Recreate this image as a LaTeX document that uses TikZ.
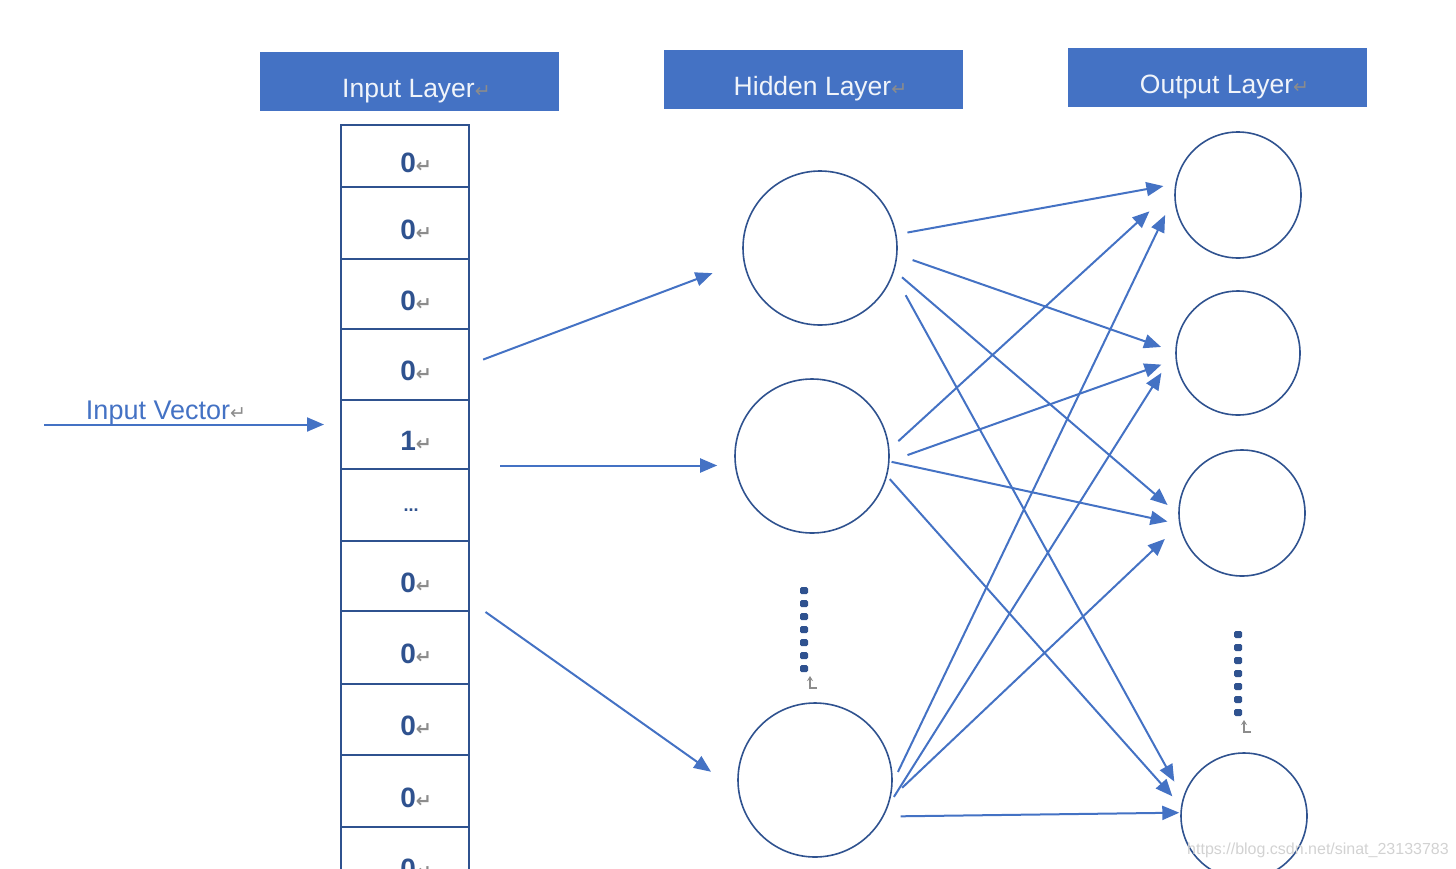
\documentclass[tikz,border=0pt]{standalone}
\usepackage{fontspec}
\setmainfont{Liberation Sans}
\newfontfamily\symfont{DejaVu Sans}
\usetikzlibrary{arrows.meta, positioning, shapes.geometric}
\definecolor{boxblue}{HTML}{4472C4}
\definecolor{lineblue}{HTML}{4472C4}
\definecolor{rimblue}{HTML}{2F528F}
\definecolor{markgray}{HTML}{8C8C8C}
\newcommand{\retmark}{{\symfont\fontsize{19}{19}\selectfont\color{markgray}↵}}
\newcommand{\bit}[1]{\hspace*{22pt}#1\retmark}
\newcommand{\celldots}{\hspace*{12pt}\raisebox{10pt}{\fontsize{18}{18}\selectfont...}}
\tikzstyle{layer} = [rectangle, minimum width=299pt, minimum height=59pt, inner sep=0pt, text height=37pt, text depth=6pt, fill=boxblue, text=white!92!boxblue, font=\fontsize{26.5}{26.5}\selectfont, execute at begin node={\hspace*{14pt}}]
\tikzstyle{cell} = [rectangle, minimum width=128pt, inner sep=0pt, text height=32pt, text depth=0pt, draw=rimblue, line width=2pt, text=rimblue, font=\bfseries\fontsize{28}{28}\selectfont]
\tikzstyle{neuron} = [circle, draw=rimblue, line width=1.6pt, inner sep=0pt]
\tikzstyle{arrow} = [draw=lineblue, line width=2pt, -{Triangle[length=17pt,width=14pt]}]

\begin{document}
\begin{tikzpicture}[x=1pt, y=-1pt]

\useasboundingbox (0,0) rectangle (1456,868);
\clip (0,0) rectangle (1456,868);

\node at (409.5, 81.5) (inlayer) [layer] {Input Layer\retmark};
\node at (813.5, 79.5) (hidlayer) [layer] {Hidden Layer\retmark};
\node at (1217.5, 77.5) (outlayer) [layer] {Output Layer\retmark};

% input vector column
\foreach \i/\top/\bot/\val in {1/125/187/\bit{0}, 2/187/259/\bit{0}, 3/259/329/\bit{0}, 4/329/400/\bit{0}, 5/400/469/\bit{1}, 6/469/541/\celldots, 7/541/611/\bit{0}, 8/611/684/\bit{0}, 9/684/755/\bit{0}, 10/755/827/\bit{0}, 11/827/898/\bit{0}}
  \node[cell, minimum height={\bot-\top}] (cell\i) at (405, {(\top+\bot)/2}) {\val};

\coordinate (vecstart) at (44, 424.5);
\draw [arrow, shorten >=16pt] (vecstart) -- (vecstart -| cell5.west);
\node at (166, 413) (veclabel) [text=lineblue, font=\fontsize{27}{27}\selectfont] {Input Vector\retmark};

% hidden layer
\node at (820, 248) (h1) [neuron, minimum size=154pt] {};
\node at (812, 456) (h2) [neuron, minimum size=154pt] {};
\node at (815, 780) (h3) [neuron, minimum size=154pt] {};

% output layer
\node at (1238, 195) (o1) [neuron, minimum size=126pt] {};
\node at (1238, 353) (o2) [neuron, minimum size=124pt] {};
\node at (1242, 513) (o3) [neuron, minimum size=126pt] {};
\node at (1244, 816) (o4) [neuron, minimum size=126pt] {};

% vertical dots
\foreach \k in {0,...,6} {
  \fill [rimblue, rounded corners=1.5pt] (800, {587+13*\k}) rectangle ++(8, 7);
  \fill [rimblue, rounded corners=1.5pt] (1234, {631+13*\k}) rectangle ++(8, 7);
}
\draw [markgray, line width=1.3pt, -{Stealth[length=5pt,width=6pt]}] (817, 688) -- (810, 688) -- (810, 676);
\draw [markgray, line width=1.3pt, -{Stealth[length=5pt,width=6pt]}] (1251, 732) -- (1244, 732) -- (1244, 720);

% input to hidden
\draw [arrow, shorten <=14pt, shorten >=33pt] (cell4.east) -- (h1.190.4);
\draw [arrow, shorten <=30pt, shorten >=17pt] ([yshift=2.5pt]cell6.north east) -- ([yshift=2.5pt]cell6.north east -| h2.west);
\draw [arrow, shorten <=19pt, shorten >=33pt] ([yshift=9pt]cell8.north east) -- (h3.188.8);

% hidden to output
\draw [arrow, shorten <=11pt, shorten >=12pt] (h1.10.5) -- (o1.170.8);
\draw [arrow, shorten <=16pt, shorten >=15pt] (h1.-5) -- (o2.179);
\draw [arrow, shorten <=10pt, shorten >=14pt] (h1.-17.1) -- (o3.181.3);
\draw [arrow, shorten <=25pt, shorten >=18pt] (h1.-19) -- (o4.163.1);

\draw [arrow, shorten <=12pt, shorten >=34pt] (h2.5.6) -- (o1.174.6);
\draw [arrow, shorten <=19pt, shorten >=15pt] (h2.-4) -- (o2.186.4);
\draw [arrow, shorten <=2pt, shorten >=12pt] (h2.-4.8) -- (o3.190.6);
\draw [arrow, shorten <=4pt, shorten >=13pt] (h2.-15.7) -- (o4.171.5);

\draw [arrow, shorten <=12pt, shorten >=21pt] (h3.-2.6) -- (o1.181.2);
\draw [arrow, shorten <=10pt, shorten >=26pt] (h3.-19.3) -- (o2.178);
\draw [arrow, shorten <=16pt, shorten >=20pt] (h3.-14) -- (o3.191.5);
\draw [arrow, shorten <=17pt, shorten >=1pt] (h3.-28.9) -- (o4.177.3);

\node at (1318, 850) (mark) [text=gray!35, font=\fontsize{16}{16}\selectfont] {https://blog.csdn.net/sinat\_23133783};

\end{tikzpicture}
\end{document}
